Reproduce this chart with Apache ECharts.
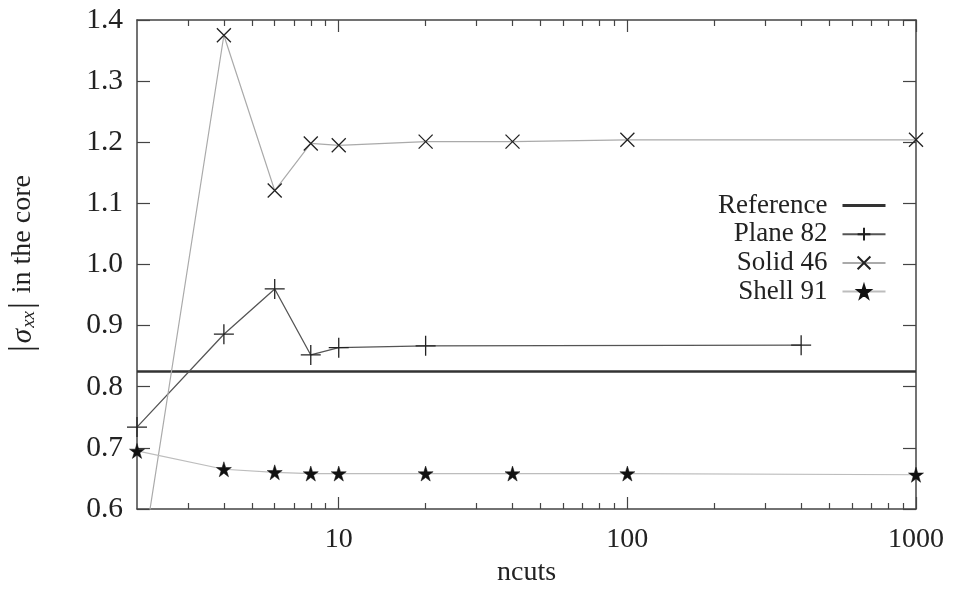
<!DOCTYPE html>
<html>
<head>
<meta charset="utf-8">
<script src="https://cdn.jsdelivr.net/npm/echarts@6/dist/echarts.min.js"></script>
<style>
html,body{margin:0;padding:0;background:#fff;}
#c{width:953px;height:589px;}
</style>
</head>
<body>
<div id="c"></div>
<script>
// ---- data ----
const seriesNames = ['Reference', 'Plane 82', 'Solid 46', 'Shell 91'];
const refX = [2, 1000];
const refY = [0.825, 0.825];
const planeX = [2, 4, 6, 8, 10, 20, 400];
const planeY = [0.734, 0.886, 0.960, 0.852, 0.864, 0.867, 0.868];
const solidX = [2, 4, 6, 8, 10, 20, 40, 100, 1000];
const solidY = [0.463, 1.375, 1.121, 1.198, 1.195, 1.201, 1.201, 1.204, 1.204];
const shellX = [2, 4, 6, 8, 10, 20, 40, 100, 1000];
const shellY = [0.695, 0.665, 0.660, 0.658, 0.658, 0.658, 0.658, 0.658, 0.656];
const xMajorTicks = [10, 100, 1000];
const xMinorTicks = [3, 4, 5, 6, 7, 8, 9, 20, 30, 40, 50, 60, 70, 80, 90, 200, 300, 400, 500, 600, 700, 800, 900];
const xRange = [2, 1000];
const yRange = [0.6, 1.4];
const yStep = 0.1;

const pairs = (xs, ys) => xs.map((x, i) => [x, ys[i]]);

const FONT = "'Liberation Serif', 'DejaVu Serif', serif";
const INK = '#222';
const FRAME = '#444';

const PLUS = 'path://M0,50 L100,50 M50,0 L50,100';
const CROSS = 'path://M0,0 L100,100 M0,100 L100,0';
const STAR = 'path://M50,0 L61.2,34.5 L97.6,34.5 L68.2,55.9 L79.4,90.5 L50,69.1 L20.6,90.5 L31.8,55.9 L2.4,34.5 L38.8,34.5 Z';

function xAxisDef(pos, ticks, len, showLine, showLabel, extra) {
  return Object.assign({
    type: 'log', logBase: 10, min: xRange[0], max: xRange[1], position: pos, gridIndex: 0,
    axisLine: { show: showLine, lineStyle: { color: FRAME, width: 1.5 } },
    axisTick: { show: true, inside: true, length: len, customValues: ticks, lineStyle: { color: FRAME, width: 1.2 } },
    axisLabel: { show: showLabel, customValues: ticks, fontFamily: FONT, fontSize: 28, color: INK, margin: 17,
      formatter: v => String(Math.round(v)) },
    splitLine: { show: false }, minorTick: { show: false }
  }, extra || {});
}
function yAxisDef(pos, showLabel) {
  return {
    type: 'value', min: yRange[0], max: yRange[1], interval: yStep, position: pos,
    axisLine: { show: true, lineStyle: { color: FRAME, width: 1.5 } },
    axisTick: { show: true, inside: true, length: 13, lineStyle: { color: FRAME, width: 1.2 } },
    axisLabel: { show: showLabel, fontFamily: FONT, fontSize: 29.5, color: INK, margin: 14,
      formatter: v => v.toFixed(1) },
    splitLine: { show: false }
  };
}

const chart = echarts.init(document.getElementById('c'), null, { renderer: 'canvas' });
const yLeft = yAxisDef('left', true);
yLeft.name = '{b||}{s|σ}{sub|xx}{b||} in the core';
yLeft.nameLocation = 'middle';
yLeft.nameGap = 97;
yLeft.nameTextStyle = {
  fontFamily: FONT, fontSize: 28, color: INK,
  rich: {
    b: { fontFamily: FONT, fontSize: 34, color: INK, padding: [0, 2, 0, 2] },
    s: { fontFamily: FONT, fontSize: 29, fontStyle: 'italic', color: INK },
    sub: { fontFamily: FONT, fontSize: 19, fontStyle: 'italic', color: INK, padding: [12, 0, 0, 1] }
  }
};

chart.setOption({
  animation: false,
  backgroundColor: '#fff',
  grid: { left: 137, right: 37, top: 20, bottom: 80, containLabel: false, outerBoundsMode: 'none' },
  legend: {
    data: [
      { name: 'Reference', itemStyle: { opacity: 0 }, lineStyle: { width: 3, color: '#333' } },
      'Plane 82', 'Solid 46', 'Shell 91'
    ],
    orient: 'vertical', align: 'right',
    right: 61, top: 187,
    itemWidth: 43, itemHeight: 16, itemGap: 1.7,
    textStyle: { fontFamily: FONT, fontSize: 27, color: INK, padding: [0, 10, 0, 0] }
  },
  xAxis: [
    xAxisDef('bottom', xMajorTicks, 12, true, true, {
      name: 'ncuts', nameLocation: 'middle', nameGap: 48,
      nameTextStyle: { fontFamily: FONT, fontSize: 28, color: INK }
    }),
    xAxisDef('bottom', xMinorTicks, 6, false, false),
    xAxisDef('top', xMajorTicks, 12, true, false),
    xAxisDef('top', xMinorTicks, 6, false, false)
  ],
  yAxis: [yLeft, yAxisDef('right', false)],
  series: [
    {
      name: 'Reference', type: 'line', xAxisIndex: 0, yAxisIndex: 0,
      data: pairs(refX, refY), symbol: 'none',
      lineStyle: { color: '#333', width: 2.6 }, itemStyle: { color: '#333' }
    },
    {
      name: 'Plane 82', type: 'line', xAxisIndex: 0, yAxisIndex: 0,
      data: pairs(planeX, planeY), symbol: PLUS, symbolSize: 20, showAllSymbol: true,
      lineStyle: { color: '#555', width: 1.3 },
      itemStyle: { color: 'rgba(0,0,0,0)', borderColor: '#222', borderWidth: 1.3 }
    },
    {
      name: 'Solid 46', type: 'line', xAxisIndex: 0, yAxisIndex: 0,
      data: pairs(solidX, solidY), symbol: CROSS, symbolSize: 14, showAllSymbol: true,
      lineStyle: { color: '#aaa', width: 1.2 },
      itemStyle: { color: 'rgba(0,0,0,0)', borderColor: '#222', borderWidth: 1.3 }
    },
    {
      name: 'Shell 91', type: 'line', xAxisIndex: 0, yAxisIndex: 0,
      data: pairs(shellX, shellY), symbol: STAR, symbolSize: 15, showAllSymbol: true,
      lineStyle: { color: '#bdbdbd', width: 1.2 },
      itemStyle: { color: '#111', borderColor: '#111', borderWidth: 0.5 }
    }
  ]
});
</script>
</body>
</html>
